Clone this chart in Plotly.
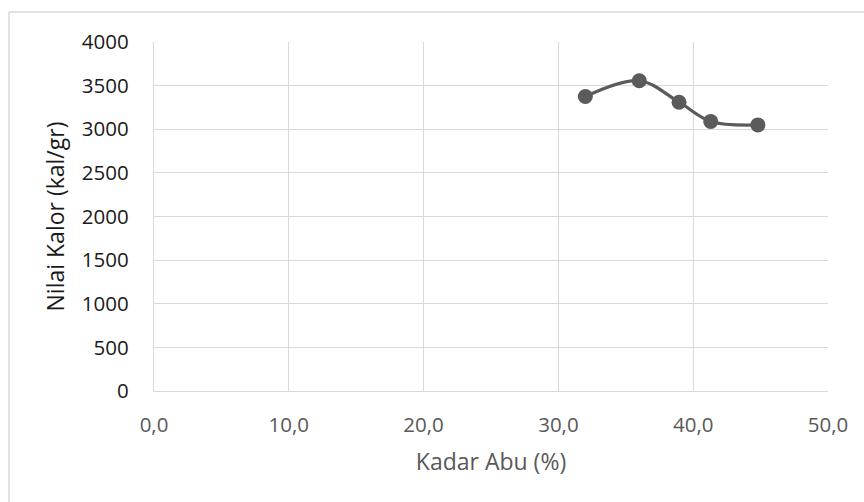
import plotly.graph_objects as go

# Ash content (%) vs. calorific value (kal/gr)
kadar_abu = [32.0, 36.0, 38.95, 41.3, 44.8]
nilai_kalor = [3375, 3556, 3310, 3090, 3050]

x_ticks = [0, 10, 20, 30, 40, 50]
x_tick_text = ["0,0", "10,0", "20,0", "30,0", "40,0", "50,0"]
y_ticks = [0, 500, 1000, 1500, 2000, 2500, 3000, 3500, 4000]

W, H = 864, 502
L, R, T, B = 154, 36, 42, 111
pw, ph = W - L - R, H - T - B

fig = go.Figure()
fig.add_trace(go.Scatter(
    x=kadar_abu, y=nilai_kalor,
    mode="lines+markers",
    line=dict(color="#5b5b5b", width=3.2, shape="spline", smoothing=1),
    marker=dict(color="#5b5b5b", size=15),
    showlegend=False,
))

font_family = "Open Sans, Noto Sans, sans-serif"
grid = "#d9d9d9"
tick_size = 20.5
title_size = 23

fig.update_layout(
    width=W, height=H,
    margin=dict(l=L, r=R, t=T, b=B),
    paper_bgcolor="white", plot_bgcolor="white",
    font=dict(family=font_family, size=tick_size),
    xaxis=dict(
        range=[0, 50], tickvals=x_ticks, ticktext=x_tick_text,
        showgrid=True, gridcolor=grid, gridwidth=1.3,
        zeroline=False, showline=True, linecolor=grid, linewidth=1.3,
        mirror=False, ticks="", ticklabelstandoff=15,
        tickfont=dict(color="#595959", size=tick_size),
        title=dict(text="Kadar Abu (%)", font=dict(color="#595959", size=title_size), standoff=17),
    ),
    yaxis=dict(
        range=[0, 4000], tickvals=y_ticks,
        showgrid=True, gridcolor=grid, gridwidth=1.3,
        zeroline=False, showline=True, linecolor=grid, linewidth=1.3,
        ticks="", ticklabelstandoff=20,
        tickfont=dict(color="#1a1a1a", size=tick_size),
        title=dict(text="Nilai Kalor (kal/gr)", font=dict(color="#1a1a1a", size=title_size), standoff=10),
    ),
)

# Chart-area border (left and top edges fall inside the page)
x0 = (9 - L) / pw
y1 = 1 + (T - 12) / ph
fig.add_shape(type="line", xref="paper", yref="paper", x0=x0, x1=x0, y0=-2, y1=y1,
              line=dict(color="#d9d9d9", width=1.5), layer="below")
fig.add_shape(type="line", xref="paper", yref="paper", x0=x0, x1=3, y0=y1, y1=y1,
              line=dict(color="#d9d9d9", width=1.5), layer="below")

fig.write_html("out.html")
